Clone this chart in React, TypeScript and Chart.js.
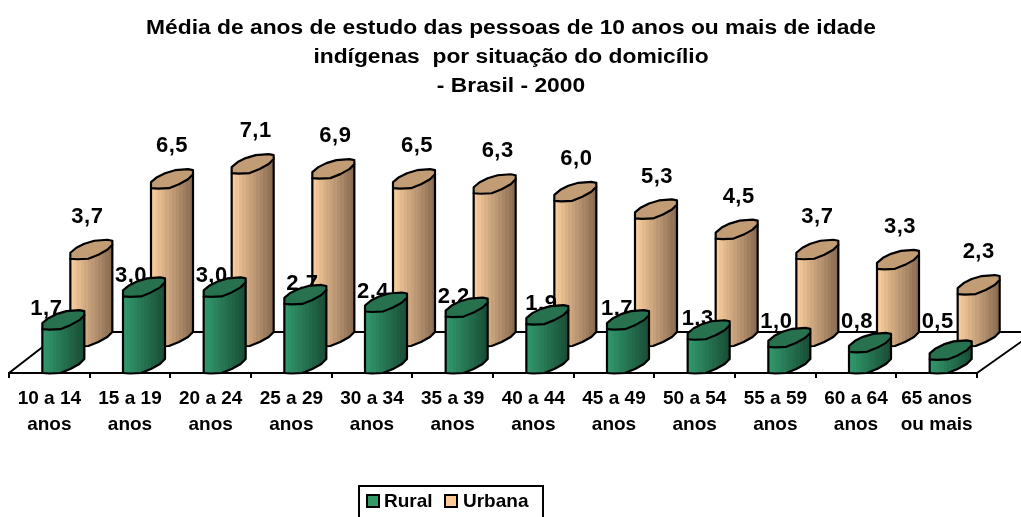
import React, { useEffect, useRef } from "react";
import { Chart, registerables } from "chart.js";

Chart.register(...registerables);

const categories = [
  ["10 a 14", "anos"], ["15 a 19", "anos"], ["20 a 24", "anos"], ["25 a 29", "anos"],
  ["30 a 34", "anos"], ["35 a 39", "anos"], ["40 a 44", "anos"], ["45 a 49", "anos"],
  ["50 a 54", "anos"], ["55 a 59", "anos"], ["60 a 64", "anos"], ["65 anos", "ou mais"],
];
const rural = [1.7, 3.0, 3.0, 2.7, 2.4, 2.2, 1.9, 1.7, 1.3, 1.0, 0.8, 0.5];
const urbana = [3.7, 6.5, 7.1, 6.9, 6.5, 6.3, 6.0, 5.3, 4.5, 3.7, 3.3, 2.3];
const titleLines = [
  "Média de anos de estudo das pessoas de 10 anos ou mais de idade",
  "indígenas  por situação do domicílio",
  "- Brasil - 2000",
];

const FONT = '"Liberation Sans", Arial, sans-serif';
const ruralLabelNudge = [-17, -13, -13, -3, -13, -13, -6, -11, -11, -13, -13, -13];
const urbanLabelNudge = [-4, 0, 3, 2, 3, 3, 1, 1, 2, 0, 2, 0];
const capOutline: [number, number][] = [
  [0, 0], [0, -6], [6, -11], [14, -15], [24, -18], [37, -19], [42, -18],
  [42, -14], [37, -9], [28, -4], [18, 0], [7, 0.5],
];
const lowerEdge: [number, number][] = [
  [42, -14], [37, -9], [28, -4], [18, 0], [7, 0.5], [0, 0],
];

function hex(c: string) {
  return [1, 3, 5].map((i) => parseInt(c.slice(i, i + 2), 16));
}

function bandedGradient(ctx: CanvasRenderingContext2D, x: number, w: number, light: string, dark: string) {
  const g = ctx.createLinearGradient(x, 0, x + w, 0);
  const a = hex(light);
  const b = hex(dark);
  const bands = 12;
  for (let i = 0; i < bands; i++) {
    const t = i / (bands - 1);
    const col = `rgb(${a.map((v, k) => Math.round(v + (b[k] - v) * t)).join(",")})`;
    g.addColorStop(i / bands, col);
    g.addColorStop((i + 1) / bands, col);
  }
  return g;
}

function drawCylinder(
  ctx: CanvasRenderingContext2D, x: number, top: number, base: number,
  light: string, dark: string, cap: string,
) {
  const w = 42;
  ctx.lineWidth = 2.2;
  ctx.strokeStyle = "#000";
  ctx.lineJoin = "round";
  ctx.beginPath();
  ctx.moveTo(x, top);
  ctx.lineTo(x + w, top - 14);
  lowerEdge.forEach(([dx, dy]) => ctx.lineTo(x + dx, base + dy));
  ctx.closePath();
  ctx.fillStyle = bandedGradient(ctx, x, w, light, dark);
  ctx.fill();
  ctx.stroke();
  ctx.beginPath();
  capOutline.forEach(([dx, dy], i) => {
    if (i === 0) ctx.moveTo(x + dx, top + dy);
    else ctx.lineTo(x + dx, top + dy);
  });
  ctx.closePath();
  ctx.fillStyle = cap;
  ctx.fill();
  ctx.stroke();
}

const fmt = (v: number) => v.toFixed(1).replace(".", ",");

const cylinderPlugin = {
  id: "cylinders",
  afterLayout(chart: any) {
    const tb = chart.titleBlock;
    if (tb && !tb.__stretched) {
      tb.__stretched = true;
      const orig = tb.draw;
      tb.draw = function (...args: any[]) {
        const ctx = chart.ctx;
        ctx.save();
        ctx.translate(511, 0);
        ctx.scale(1.14, 1);
        ctx.translate(-(this.left + this.right) / 2, 0);
        orig.apply(this, args);
        ctx.restore();
      };
    }
  },
  beforeDatasetsDraw(chart: any) {
    const { ctx, chartArea } = chart;
    const left = chartArea.left;
    const right = chartArea.right;
    const bottom = chartArea.bottom;
    ctx.save();
    ctx.strokeStyle = "#000";
    ctx.lineWidth = 2;
    ctx.beginPath();
    ctx.moveTo(left, bottom);
    ctx.lineTo(left + 53, bottom - 41);
    ctx.lineTo(right + 58, bottom - 41);
    ctx.lineTo(right, bottom);
    ctx.stroke();

    const ruralMeta = chart.getDatasetMeta(0);
    const urbanMeta = chart.getDatasetMeta(1);
    const depthX = 42;
    const frontX = 14;

    urbanMeta.data.forEach((el: any) => {
      drawCylinder(ctx, el.x + depthX - el.width / 2, el.y - 21, el.base - 27,
        "#f7ca9b", "#8a6d52", "#c19c75");
    });

    ctx.fillStyle = "#000";
    ctx.font = `bold 22px ${FONT}`;
    ctx.letterSpacing = "0.5px";
    ctx.textAlign = "center";
    ctx.textBaseline = "middle";
    urbanMeta.data.forEach((el: any, i: number) => {
      ctx.fillText(fmt(urbana[i]), el.x + depthX + urbanLabelNudge[i], el.y - 21 - 42);
    });
    ruralMeta.data.forEach((el: any, i: number) => {
      ctx.fillText(fmt(rural[i]), el.x + frontX + ruralLabelNudge[i], Math.min(el.y - 21, 322));
    });
    ctx.letterSpacing = "0px";

    ruralMeta.data.forEach((el: any) => {
      drawCylinder(ctx, el.x + frontX - el.width / 2, el.y - 1, el.base,
        "#30966a", "#1a4f37", "#27714e");
    });
    ctx.restore();
    return false;
  },
  afterDraw(chart: any) {
    const { ctx } = chart;
    ctx.save();
    ctx.strokeStyle = "#000";
    ctx.lineWidth = 2;
    ctx.strokeRect(359, 486, 184, 40);
    ctx.font = `bold 19px ${FONT}`;
    ctx.textAlign = "left";
    ctx.textBaseline = "middle";
    const xs = [[367, 384], [445, 463]];
    chart.data.datasets.forEach((ds: any, i: number) => {
      ctx.fillStyle = ds.backgroundColor;
      ctx.fillRect(xs[i][0], 495, 12, 12);
      ctx.strokeRect(xs[i][0], 495, 12, 12);
      ctx.fillStyle = "#000";
      ctx.fillText(ds.label, xs[i][1], 502);
    });
    ctx.restore();
  },
};

export default function App() {
  const ref = useRef<HTMLCanvasElement>(null);
  useEffect(() => {
    document.body.style.margin = "0";
    const chart = new Chart(ref.current!, {
      type: "bar",
      data: {
        labels: categories,
        datasets: [
          { label: "Rural", data: rural, backgroundColor: "#339966" },
          { label: "Urbana", data: urbana, backgroundColor: "#FFCC99" },
        ],
      },
      plugins: [cylinderPlugin],
      options: {
        responsive: false,
        animation: false,
        layout: { padding: { left: 9, right: 44, top: 0, bottom: 0 } },
        datasets: { bar: { grouped: false, categoryPercentage: 1, barPercentage: 42 / 80.67 } },
        plugins: {
          legend: { display: false },
          tooltip: { enabled: false },
          title: {
            display: true,
            text: titleLines,
            color: "#000",
            font: { family: FONT, size: 20, weight: "bold", lineHeight: 1.45 },
            padding: { top: 13.5, bottom: 70.9 },
          },
        },
        scales: {
          y: { display: false, min: 0, max: 8 },
          x: {
            afterFit(scale: any) { scale.height = 144; },
            border: { color: "#000", width: 2 },
            grid: { offset: true, drawOnChartArea: false, drawTicks: true, tickLength: 5, color: "#000", lineWidth: 2 },
            ticks: {
              autoSkip: false, maxRotation: 0, minRotation: 0, color: "#000", padding: 8,
              font: { family: FONT, size: 19, weight: "bold", lineHeight: 1.37 },
            },
          },
        },
      } as any,
    });
    return () => chart.destroy();
  }, []);
  return <canvas ref={ref} width={1021} height={517} style={{ display: "block" }} />;
}
